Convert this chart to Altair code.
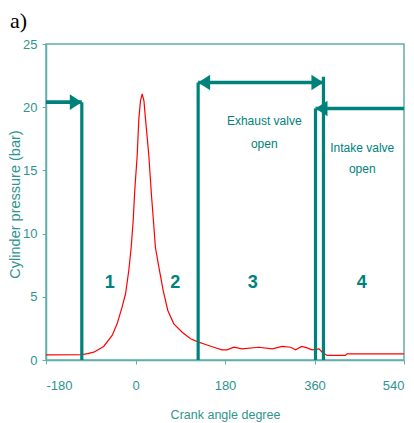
import altair as alt
import pandas as pd

# ---- data ----
angle = [-180, -108, -96, -84, -64, -47, -37, -27, -20, -13.5, -8.7, -4.7, -1.3, 3.4, 6.7, 10, 13.4,
         17, 20.1, 26.8, 32.2, 36.8, 40, 47, 55.6, 65, 77, 94, 110.6, 127, 141, 157.5, 174, 184, 198,
         214.6, 248, 275, 295, 312, 322, 334, 345, 355, 369, 375.5, 385.5, 422, 425.5, 540]
pressure = [0.4, 0.43, 0.5, 0.62, 1.07, 1.94, 2.86, 4.18, 5.24, 7.08, 8.92, 11.0, 13.54, 16.18, 19.08,
            20.5, 21.06, 20.5, 19.08, 16.18, 13.0, 10.64, 8.92, 7.34, 5.5, 3.92, 2.86, 2.2, 1.68, 1.41,
            1.23, 1.01, 0.8, 0.8, 1.01, 0.88, 1.01, 0.88, 1.07, 1.01, 0.8, 1.07, 0.96, 0.8, 0.88, 0.62,
            0.36, 0.36, 0.49, 0.49]

vline_x = [-108, 126, 362, 378]
vline_top = [20.4, 21.95, 19.9, 22.4]

arrow_start = [-180, 126, 362]
arrow_end = [-108, 378, 540]
arrow_y = [20.4, 21.95, 19.9]

head_right_x = [-108, 378]
head_right_y = [20.4, 21.95]
head_left_x = [126, 362]
head_left_y = [21.95, 19.9]

phase_labels = ["1", "2", "3", "4"]
phase_x = [-52, 80, 236, 455]
phase_y = [6.1, 6.1, 6.1, 6.1]

note_text = ["Exhaust valve", "open", "Intake valve", "open"]
note_x = [259, 259, 456, 456]
note_y = [18.9, 17.1, 16.8, 15.1]

x_ticks = [-180, 0, 180, 360, 540]
y_ticks = [0, 5, 10, 15, 20, 25]

# ---- styling ----
TEAL = "#00827c"
AXIS_COL = "#5fb0ac"
LABEL_COL = "#2e948f"
SANS = "Liberation Sans"

xs = alt.Scale(domain=[-180, 540], nice=False, zero=False)
ys = alt.Scale(domain=[0, 25], nice=False)

x_axis = alt.Axis(values=x_ticks, title="Crank angle degree", labelPadding=15,
                  titlePadding=16, labelFont=SANS, labelFontSize=13,
                  labelExpr="datum.value < 0 ? '-' + abs(datum.value) : '' + datum.value",
                  titleFont=SANS, titleFontSize=12.5)
y_axis = alt.Axis(values=y_ticks, title="Cylinder pressure (bar)", labelPadding=5,
                  labelFont=SANS, labelFontSize=13,
                  titleX=-31, titleY=160, titleBaseline="middle",
                  titleFont=SANS, titleFontSize=14.5)


def X(field):
    return alt.X(field, scale=xs, axis=x_axis, title="Crank angle degree")


def Y(field):
    return alt.Y(field, scale=ys, axis=y_axis, title="Cylinder pressure (bar)")


curve_df = pd.DataFrame({"angle": angle, "pressure": pressure})
vline_df = pd.DataFrame({"angle": vline_x, "pressure": [0] * len(vline_x), "top": vline_top})
arrow_df = pd.DataFrame({"angle": arrow_start, "end": arrow_end, "pressure": arrow_y})
hr_df = pd.DataFrame({"angle": head_right_x, "pressure": head_right_y})
hl_df = pd.DataFrame({"angle": head_left_x, "pressure": head_left_y})
phase_df = pd.DataFrame({"angle": phase_x, "pressure": phase_y, "t": phase_labels})
note_df = pd.DataFrame({"angle": note_x, "pressure": note_y, "t": note_text})

curve = alt.Chart(curve_df).mark_line(color="#ff0000", strokeWidth=1.2).encode(
    x=X("angle:Q"), y=Y("pressure:Q"))

vlines = alt.Chart(vline_df).mark_rule(color=TEAL, strokeWidth=3.2).encode(
    x=X("angle:Q"), y=Y("pressure:Q"), y2="top:Q")

arrows = alt.Chart(arrow_df).mark_rule(color=TEAL, strokeWidth=3.6).encode(
    x=X("angle:Q"), x2="end:Q", y=Y("pressure:Q"))

heads_r = alt.Chart(hr_df).mark_point(
    shape="M 0 0 L -2 -1.3 L -2 1.3 Z", size=144, filled=True, color=TEAL, opacity=1, strokeWidth=0
).encode(x=X("angle:Q"), y=Y("pressure:Q"))

heads_l = alt.Chart(hl_df).mark_point(
    shape="M 0 0 L 2 -1.3 L 2 1.3 Z", size=144, filled=True, color=TEAL, opacity=1, strokeWidth=0
).encode(x=X("angle:Q"), y=Y("pressure:Q"))

phases = alt.Chart(phase_df).mark_text(
    font=SANS, fontSize=18, fontWeight="bold", color=TEAL, baseline="middle", align="center"
).encode(x=X("angle:Q"), y=Y("pressure:Q"), text="t:N")

notes = alt.Chart(note_df).mark_text(
    font=SANS, fontSize=12, color=TEAL, baseline="middle", align="center"
).encode(x=X("angle:Q"), y=Y("pressure:Q"), text="t:N")

panel_label = alt.Chart(pd.DataFrame({"t": ["a)"]})).mark_text(
    font="Liberation Serif", fontSize=22, color="black", align="left", baseline="alphabetic"
).encode(x=alt.value(-36), y=alt.value(-16), text="t:N")

chart = alt.layer(curve, vlines, arrows, heads_r, heads_l, phases, notes, panel_label).properties(
    width=358, height=316,
    autosize=alt.AutoSizeParams(type="none"),
    padding={"left": 38, "top": 36, "right": 2, "bottom": 62},
    background="white",
).configure_view(
    stroke=AXIS_COL, strokeWidth=1.5
).configure_axis(
    grid=False, domainColor=AXIS_COL, domainWidth=1.5, tickColor=AXIS_COL, tickSize=4,
    labelColor=LABEL_COL, titleColor=LABEL_COL, titleFontWeight="normal"
)

chart.save("out.html", embed_options={"renderer": "svg", "actions": False})
